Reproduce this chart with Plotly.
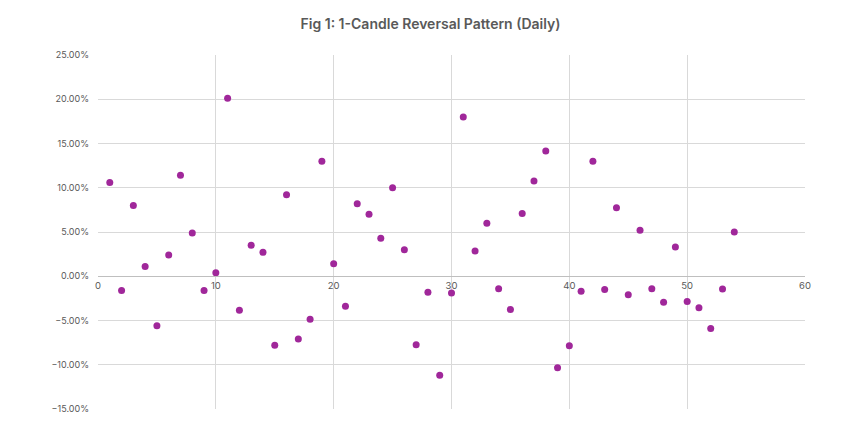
import plotly.graph_objects as go

days = list(range(1, 55))
returns_pct = [10.6, -1.6, 8.0, 1.1, -5.6, 2.4, 11.4, 4.9, -1.6, 0.4,
               20.1, -3.85, 3.5, 2.7, -7.8, 9.2, -7.1, -4.85, 13.0, 1.4,
               -3.4, 8.2, 7.0, 4.3, 10.0, 3.0, -7.75, -1.8, -11.2, -1.9,
               18.0, 2.85, 6.0, -1.4, -3.75, 7.1, 10.75, 14.15, -10.35, -7.85,
               -1.7, 13.0, -1.5, 7.75, -2.1, 5.2, -1.4, -2.95, 3.3, -2.85,
               -3.55, -5.9, -1.45, 5.0]
returns = [v / 100 for v in returns_pct]

title_text = "Fig 1: 1-Candle Reversal Pattern (Daily)"
grey = "#595959"

fig = go.Figure()
fig.add_trace(go.Scatter(
    x=days, y=returns, mode="markers",
    marker=dict(color="#A0279A", size=7, line=dict(width=0)),
    showlegend=False, cliponaxis=False,
))

fig.update_layout(
    width=845, height=439,
    margin=dict(l=90, r=48, t=47, b=38),
    paper_bgcolor="white", plot_bgcolor="white",
    font=dict(family="Inter, Roboto, sans-serif", color=grey, size=9),
    title=dict(text=title_text, x=0.5, xanchor="center", y=0.963, yanchor="middle",
               font=dict(family="Inter, Roboto, sans-serif", size=14, color=grey, weight=600)),
    xaxis=dict(range=[0, 60], dtick=10, tick0=0, showgrid=True, gridcolor="#d9d9d9",
               gridwidth=1, zeroline=False, showline=True, linecolor="#bfbfbf", linewidth=1,
               anchor="free", position=0.375, ticks="", tickfont=dict(size=9.5, color=grey),
               fixedrange=True),
    yaxis=dict(range=[-0.15, 0.25], dtick=0.05, tick0=0, tickformat=".2%",
               showgrid=True, gridcolor="#d9d9d9", gridwidth=1, zeroline=False,
               showline=False, ticks="", ticklabelstandoff=8,
               tickfont=dict(size=9, color=grey), domain=[0, 1]),
)

fig.write_html("out.html")
